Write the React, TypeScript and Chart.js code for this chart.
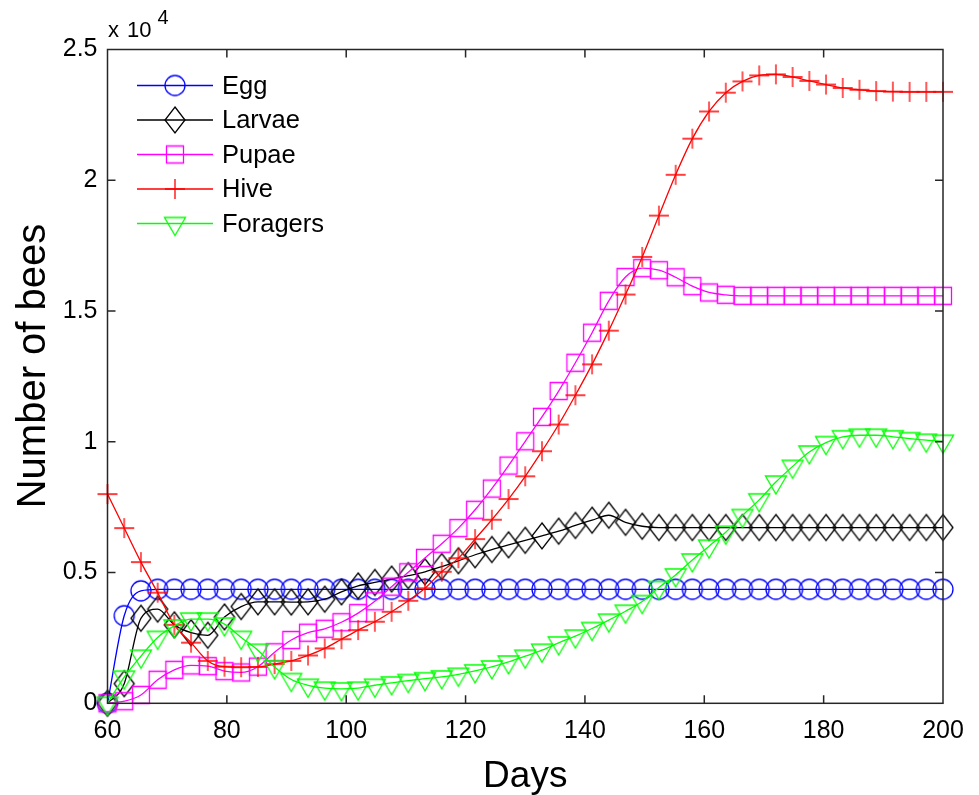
import React, { useEffect, useRef } from 'react';
import { Chart, registerables } from 'chart.js';

Chart.register(...registerables);

const DAYS = [60, 62.8, 65.6, 68.4, 71.2, 74, 76.8, 79.6, 82.4, 85.2, 88, 90.8, 93.6, 96.4, 99.2, 102, 104.8, 107.6, 110.4, 113.2, 116, 118.8, 121.6, 124.4, 127.2, 130, 132.8, 135.6, 138.4, 141.2, 144, 146.8, 149.6, 152.4, 155.2, 158, 160.8, 163.6, 166.4, 169.2, 172, 174.8, 177.6, 180.4, 183.2, 186, 188.8, 191.6, 194.4, 197.2, 200];

const EGG = [0, 3350, 4300, 4360, 4360, 4360, 4360, 4360, 4360, 4360, 4360, 4360, 4360, 4360, 4360, 4360, 4360, 4360, 4360, 4360, 4360, 4360, 4360, 4360, 4360, 4360, 4360, 4360, 4360, 4360, 4360, 4360, 4360, 4360, 4360, 4360, 4360, 4360, 4360, 4360, 4360, 4360, 4360, 4360, 4360, 4360, 4360, 4360, 4360, 4360, 4360];

const LARVAE = [0, 750, 3250, 3600, 3000, 2700, 2600, 3300, 3700, 3880, 3880, 3870, 3880, 3980, 4260, 4490, 4620, 4750, 4880, 5030, 5230, 5450, 5680, 5880, 6060, 6230, 6400, 6580, 6800, 7000, 7190, 6920, 6770, 6720, 6720, 6720, 6720, 6720, 6720, 6720, 6720, 6720, 6720, 6720, 6720, 6720, 6720, 6720, 6720, 6720, 6720];

const PUPAE = [0, 80, 320, 900, 1280, 1450, 1420, 1230, 1180, 1400, 1950, 2420, 2700, 2850, 3100, 3450, 3900, 4460, 5010, 5560, 6100, 6700, 7400, 8210, 9090, 10020, 10950, 11940, 13020, 14170, 15390, 16300, 16640, 16560, 16290, 15950, 15710, 15620, 15580, 15580, 15580, 15580, 15580, 15580, 15580, 15580, 15580, 15580, 15580, 15580, 15580];

const HIVE = [8000, 6700, 5400, 4230, 3000, 2320, 1620, 1400, 1380, 1390, 1500, 1620, 1830, 2100, 2450, 2800, 3120, 3500, 3920, 4400, 5030, 5550, 6280, 7020, 7810, 8680, 9640, 10660, 11780, 12960, 14250, 15630, 17070, 18650, 20210, 21590, 22630, 23350, 23780, 24010, 24050, 23950, 23800, 23660, 23530, 23460, 23410, 23390, 23380, 23380, 23380];

const FORAGERS = [0, 1000, 1800, 2520, 2960, 3220, 3220, 3030, 2520, 2030, 1390, 910, 690, 580, 550, 580, 690, 780, 870, 940, 1010, 1110, 1240, 1390, 1580, 1800, 2030, 2310, 2570, 2860, 3180, 3520, 3890, 4430, 4910, 5480, 6010, 6540, 7180, 7780, 8460, 9060, 9610, 9970, 10190, 10250, 10250, 10190, 10120, 10060, 10020];

const SERIES_NAMES = ['Egg', 'Larvae', 'Pupae', 'Hive', 'Foragers'];
const SERIES_VALUES = [EGG, LARVAE, PUPAE, HIVE, FORAGERS];
const SERIES_COLORS = ['#0000ff', '#000000', '#ff00ff', '#ff0000', '#00ff00'];
const SERIES_MARKERS = ['circle', 'diamond', 'square', 'plus', 'triangle'];

const X_MIN = 60;
const X_MAX = 200;
const X_STEP = 20;
const Y_MIN = 0;
const Y_MAX = 25000;
const Y_STEP = 5000;
const Y_EXPONENT = 4;
const X_TITLE = 'Days';
const Y_TITLE = 'Number of bees';

const FONT = '"Liberation Sans", Arial, Helvetica, sans-serif';

function makeMarker(kind: string, color: string): HTMLCanvasElement {
  const c = document.createElement('canvas');
  const w = 28;
  const h = kind === 'triangle' ? 32 : 30;
  c.width = w;
  c.height = h;
  const ctx = c.getContext('2d') as CanvasRenderingContext2D;
  ctx.strokeStyle = color;
  ctx.lineWidth = 1.3;
  const cx = w / 2;
  const cy = h / 2;
  ctx.beginPath();
  if (kind === 'circle') {
    ctx.arc(cx, cy, 10, 0, Math.PI * 2);
  } else if (kind === 'diamond') {
    ctx.moveTo(cx, cy - 13);
    ctx.lineTo(cx + 10, cy);
    ctx.lineTo(cx, cy + 13);
    ctx.lineTo(cx - 10, cy);
    ctx.closePath();
  } else if (kind === 'square') {
    ctx.rect(cx - 8.5, cy - 8.5, 17, 17);
  } else if (kind === 'plus') {
    ctx.moveTo(cx - 10, cy);
    ctx.lineTo(cx + 10, cy);
    ctx.moveTo(cx, cy - 10);
    ctx.lineTo(cx, cy + 10);
  } else if (kind === 'triangle') {
    ctx.moveTo(cx - 10.5, cy - 6);
    ctx.lineTo(cx + 10.5, cy - 6);
    ctx.lineTo(cx, cy + 12);
    ctx.closePath();
  }
  ctx.stroke();
  return c;
}

export default function App() {
  const ref = useRef<HTMLCanvasElement | null>(null);

  useEffect(() => {
    document.body.style.margin = '0';
    const canvas = ref.current;
    if (!canvas) return;
    const markers = SERIES_MARKERS.map((m, i) => makeMarker(m, SERIES_COLORS[i]));

    const framePlugin = {
      id: 'matlabFrame',
      afterDraw(chart: any) {
        const { ctx, chartArea: a, scales } = chart;
        const xs = scales.x;
        const ys = scales.y;
        ctx.save();
        // box
        ctx.strokeStyle = '#262626';
        ctx.lineWidth = 1.5;
        ctx.strokeRect(a.left, a.top, a.right - a.left, a.bottom - a.top);
        // inward ticks
        const tl = 8;
        ctx.beginPath();
        xs.ticks.forEach((t: any) => {
          const px = xs.getPixelForValue(t.value);
          if (Math.abs(px - a.left) < 1 || Math.abs(px - a.right) < 1) return;
          ctx.moveTo(px, a.bottom);
          ctx.lineTo(px, a.bottom - tl);
          ctx.moveTo(px, a.top);
          ctx.lineTo(px, a.top + tl);
        });
        ys.ticks.forEach((t: any) => {
          const py = ys.getPixelForValue(t.value);
          if (Math.abs(py - a.top) < 1 || Math.abs(py - a.bottom) < 1) return;
          ctx.moveTo(a.left, py);
          ctx.lineTo(a.left + tl, py);
          ctx.moveTo(a.right, py);
          ctx.lineTo(a.right - tl, py);
        });
        ctx.stroke();

        // exponent label
        ctx.fillStyle = '#000';
        ctx.textAlign = 'left';
        ctx.textBaseline = 'alphabetic';
        ctx.font = `22px ${FONT}`;
        ctx.fillText('x', a.left + 0.5, 37);
        ctx.fillText('10', a.left + 19.5, 37);
        ctx.font = `20px ${FONT}`;
        ctx.fillText(String(Y_EXPONENT), a.left + 50, 24);

        // axis titles
        ctx.font = `37px ${FONT}`;
        ctx.textAlign = 'center';
        ctx.fillText(X_TITLE, (a.left + a.right) / 2, 787);
        ctx.save();
        ctx.font = `40px ${FONT}`;
        ctx.translate(45, 366);
        ctx.rotate(-Math.PI / 2);
        ctx.fillText(Y_TITLE, 0, 0);
        ctx.restore();

        // legend
        ctx.font = `25.5px ${FONT}`;
        ctx.textAlign = 'left';
        ctx.textBaseline = 'middle';
        SERIES_NAMES.forEach((name, i) => {
          const y = 85.5 + i * 34.5;
          ctx.strokeStyle = SERIES_COLORS[i];
          ctx.lineWidth = 1.3;
          ctx.beginPath();
          ctx.moveTo(137, y);
          ctx.lineTo(213, y);
          ctx.stroke();
          const mk = markers[i];
          ctx.drawImage(mk, 175 - mk.width / 2, y - mk.height / 2);
          ctx.fillStyle = '#000';
          ctx.fillText(name, 222, y + 1);
        });
        ctx.restore();
      },
    };

    const chart = new Chart(canvas, {
      type: 'line',
      data: {
        datasets: SERIES_NAMES.map((name, i) => ({
          label: name,
          data: DAYS.map((d, j) => ({ x: d, y: SERIES_VALUES[i][j] })),
          borderColor: SERIES_COLORS[i],
          backgroundColor: SERIES_COLORS[i],
          borderWidth: 1.3,
          pointStyle: markers[i] as any,
          pointRadius: 10,
          pointHoverRadius: 10,
          cubicInterpolationMode: 'monotone' as const,
          fill: false,
          clip: false as any,
          order: SERIES_NAMES.length - i,
        })),
      },
      options: {
        responsive: false,
        animation: false,
        events: [],
        layout: { padding: { top: 49.5, right: 36, left: 0, bottom: 0 } },
        plugins: {
          legend: { display: false },
          tooltip: { enabled: false },
          title: { display: false },
        },
        scales: {
          x: {
            type: 'linear',
            min: X_MIN,
            max: X_MAX,
            grid: { display: false, drawTicks: false },
            border: { display: false },
            ticks: {
              stepSize: X_STEP,
              color: '#000',
              padding: 13,
              maxRotation: 0,
              font: { family: FONT, size: 25 },
            },
            afterFit: (s: any) => {
              s.height = 91.7;
            },
          },
          y: {
            type: 'linear',
            min: Y_MIN,
            max: Y_MAX,
            grid: { display: false, drawTicks: false },
            border: { display: false },
            ticks: {
              stepSize: Y_STEP,
              color: '#000',
              padding: 10,
              font: { family: FONT, size: 25 },
              callback: (v: any) => String(Number(v) / Math.pow(10, Y_EXPONENT)),
            },
            afterFit: (s: any) => {
              s.width = 107.5;
            },
          },
        },
      },
      plugins: [framePlugin],
    });
    return () => chart.destroy();
  }, []);

  return (
    <canvas
      ref={ref}
      width={979}
      height={795}
      style={{ display: 'block', width: '979px', height: '795px' }}
    />
  );
}
